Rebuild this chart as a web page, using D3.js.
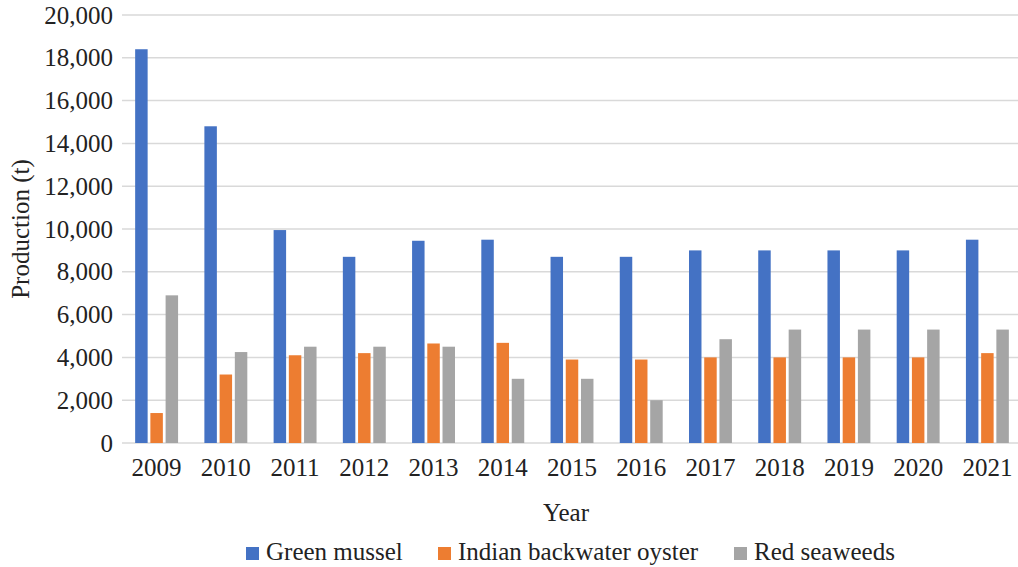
<!DOCTYPE html>
<html>
<head>
<meta charset="utf-8">
<script src="https://cdn.jsdelivr.net/npm/d3@7"></script>
<style>
  body { margin: 0; background: #fff; }
</style>
</head>
<body>
<div id="chart"></div>
<script>
// Data
var years = ['2009', '2010', '2011', '2012', '2013', '2014', '2015', '2016', '2017', '2018', '2019', '2020', '2021'];
var greenMussel = [18400, 14800, 9950, 8700, 9450, 9500, 8700, 8700, 9000, 9000, 9000, 9000, 9500];
var oyster = [1400, 3200, 4100, 4200, 4650, 4680, 3900, 3900, 4000, 4000, 4000, 4000, 4200];
var seaweeds = [6900, 4250, 4500, 4500, 4500, 3000, 3000, 2000, 4850, 5300, 5300, 5300, 5300];
var seriesNames = ['Green mussel', 'Indian backwater oyster', 'Red seaweeds'];
var seriesColors = ['#4472c4', '#ed7d31', '#a5a5a5'];
var yTicks = [0, 2000, 4000, 6000, 8000, 10000, 12000, 14000, 16000, 18000, 20000];

var FONT = '"Liberation Serif", "Times New Roman", Times, serif';
var FONT_SIZE = 25;

var width = 1018;
var height = 567;
var margin = {top: 15, right: -4, bottom: 124, left: 122};

var svg = d3.select('#chart').append('svg')
  .attr('width', width)
  .attr('height', height);

var x0 = d3.scaleBand()
  .domain(years)
  .range([margin.left, width - margin.right])
  .paddingInner(0.38)
  .paddingOuter(0.19);

var x1 = d3.scaleBand()
  .domain(seriesNames)
  .range([0, x0.bandwidth()])
  .paddingInner(0.18);

var y = d3.scaleLinear()
  .domain([0, 20000])
  .range([height - margin.bottom, margin.top]);

// gridlines
svg.append('g')
  .selectAll('line')
  .data(yTicks)
  .join('line')
  .attr('x1', margin.left)
  .attr('x2', width)
  .attr('y1', d => y(d))
  .attr('y2', d => y(d))
  .attr('stroke', '#d9d9d9')
  .attr('stroke-width', 1.5);

// y axis labels
var yAxis = svg.append('g')
  .attr('transform', 'translate(' + (margin.left - 9) + ',0)')
  .call(d3.axisLeft(y).tickValues(yTicks).tickFormat(d3.format(',')).tickSize(0).tickPadding(0));
yAxis.select('.domain').remove();

// bars
var table = years.map(function(yr, i) {
  return {year: yr, values: [greenMussel[i], oyster[i], seaweeds[i]]};
});

var groups = svg.append('g')
  .selectAll('g')
  .data(table)
  .join('g')
  .attr('transform', d => 'translate(' + x0(d.year) + ',0)');

groups.selectAll('rect')
  .data(d => d.values.map((v, k) => ({name: seriesNames[k], value: v, color: seriesColors[k]})))
  .join('rect')
  .attr('x', d => x1(d.name))
  .attr('width', x1.bandwidth())
  .attr('y', d => y(d.value))
  .attr('height', d => y(0) - y(d.value))
  .attr('fill', d => d.color);

// x axis labels
var xAxis = svg.append('g')
  .attr('transform', 'translate(0,' + (y(0) + 15) + ')')
  .call(d3.axisBottom(x0).tickSize(0).tickPadding(0));
xAxis.select('.domain').remove();

// axis titles
svg.append('text')
  .attr('x', 566)
  .attr('y', 521)
  .attr('text-anchor', 'middle')
  .text('Year');

svg.append('text')
  .attr('transform', 'translate(29,' + ((y(0) + y(20000)) / 2) + ') rotate(-90)')
  .attr('text-anchor', 'middle')
  .text('Production (t)');

// legend
var legendX = [246, 438, 734];
var legend = svg.append('g')
  .selectAll('g')
  .data(seriesNames)
  .join('g')
  .attr('transform', (d, i) => 'translate(' + legendX[i] + ',547)');

legend.append('rect')
  .attr('width', 13)
  .attr('height', 13)
  .attr('fill', (d, i) => seriesColors[i]);

legend.append('text')
  .attr('x', 20)
  .attr('y', 13)
  .text(d => d);

// one font for every label
svg.selectAll('text')
  .style('font-family', FONT)
  .style('font-size', FONT_SIZE + 'px')
  .style('fill', '#222');
</script>
</body>
</html>
